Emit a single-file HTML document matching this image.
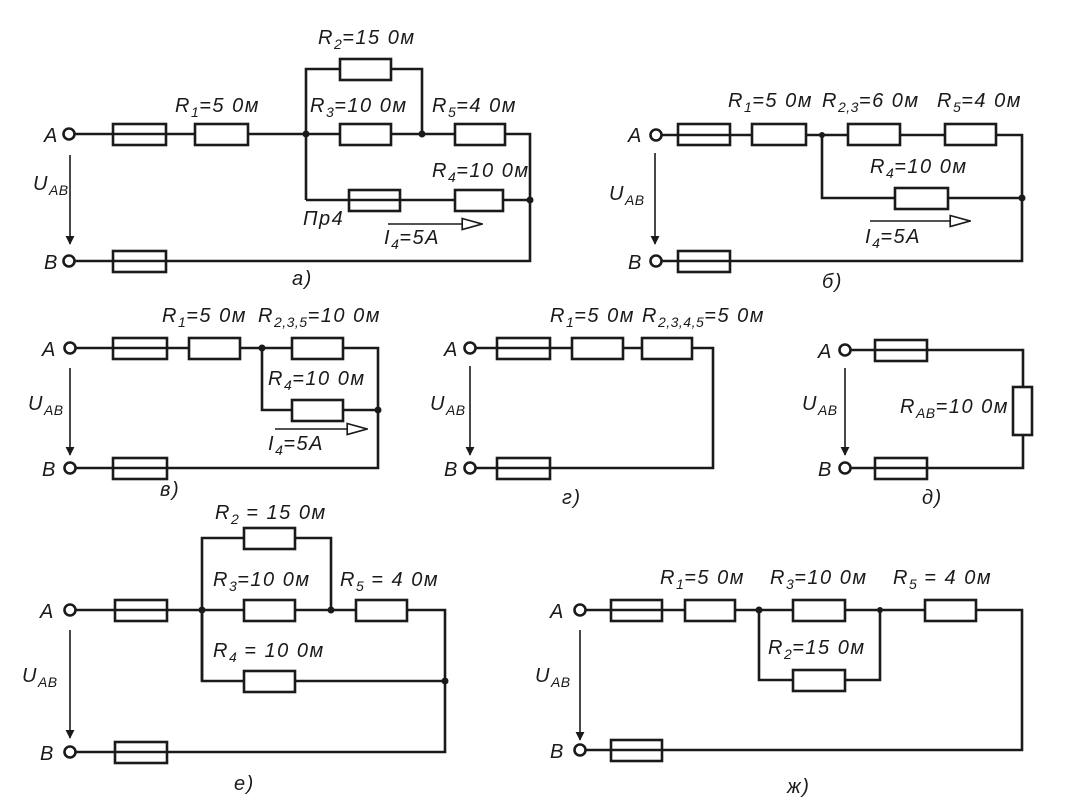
<!DOCTYPE html>
<html><head><meta charset="utf-8"><style>
html,body{margin:0;padding:0;background:#fff}
svg{display:block}
text{font-family:"Liberation Sans",sans-serif;font-style:italic;font-size:20px;fill:#1a1a1a;letter-spacing:1.5px}
.s{font-size:14px;letter-spacing:0.5px}
</style></head><body>
<svg width="1070" height="806" viewBox="0 0 1070 806" xmlns="http://www.w3.org/2000/svg">
<defs>
<marker id="ah" viewBox="0 0 10 10" refX="9" refY="5" markerWidth="9" markerHeight="16" orient="auto" markerUnits="userSpaceOnUse"><path d="M0,0 L10,5 L0,10 Z" fill="#1a1a1a"/></marker>
<marker id="oh" viewBox="0 0 20 12" refX="19" refY="6" markerWidth="22" markerHeight="14" orient="auto" markerUnits="userSpaceOnUse"><path d="M1,1 L19,6 L1,11 Z" fill="#fff" stroke="#1a1a1a" stroke-width="1.5"/></marker>
</defs>
<g fill="none" stroke="#1a1a1a" stroke-width="2.6">
<!-- a) -->
<polyline points="75,134 306,134"/>
<polyline points="306,200 306,69 422,69 422,134"/>
<polyline points="306,134 530,134 530,261 75,261"/>
<polyline points="306,200 530,200"/>
<rect x="113" y="124" width="53" height="21" fill="#fff"/><line x1="113" y1="134" x2="166" y2="134"/>
<rect x="195" y="124" width="53" height="21" fill="#fff"/>
<rect x="340" y="59" width="51" height="21" fill="#fff"/>
<rect x="340" y="124" width="51" height="21" fill="#fff"/>
<rect x="455" y="124" width="50" height="21" fill="#fff"/>
<rect x="349" y="190" width="51" height="21" fill="#fff"/><line x1="349" y1="200" x2="400" y2="200"/>
<rect x="455" y="190" width="48" height="21" fill="#fff"/>
<rect x="113" y="251" width="53" height="21" fill="#fff"/><line x1="113" y1="261" x2="166" y2="261"/>
<circle cx="69" cy="134" r="5.5" fill="#fff"/><circle cx="69" cy="261" r="5.5" fill="#fff"/>
<line x1="70" y1="155" x2="70" y2="244" stroke-width="1.6" marker-end="url(#ah)"/>
<line x1="388" y1="224" x2="482" y2="224" stroke-width="1.4" marker-end="url(#oh)"/>
<!-- b) -->
<polyline points="662,135 1022,135 1022,261 662,261"/>
<polyline points="822,135 822,198 1022,198"/>
<rect x="678" y="124" width="52" height="21" fill="#fff"/><line x1="678" y1="135" x2="730" y2="135"/>
<rect x="752" y="124" width="54" height="21" fill="#fff"/>
<rect x="848" y="124" width="52" height="21" fill="#fff"/>
<rect x="945" y="124" width="51" height="21" fill="#fff"/>
<rect x="895" y="188" width="53" height="21" fill="#fff"/>
<rect x="678" y="251" width="52" height="21" fill="#fff"/><line x1="678" y1="261" x2="730" y2="261"/>
<circle cx="656" cy="135" r="5.5" fill="#fff"/><circle cx="656" cy="261" r="5.5" fill="#fff"/>
<line x1="655" y1="153" x2="655" y2="244" stroke-width="1.6" marker-end="url(#ah)"/>
<line x1="870" y1="221" x2="970" y2="221" stroke-width="1.4" marker-end="url(#oh)"/>
<!-- v) -->
<polyline points="76,348 378,348 378,468 76,468"/>
<polyline points="262,348 262,410 378,410"/>
<rect x="113" y="338" width="54" height="21" fill="#fff"/><line x1="113" y1="348" x2="167" y2="348"/>
<rect x="189" y="338" width="51" height="21" fill="#fff"/>
<rect x="292" y="338" width="51" height="21" fill="#fff"/>
<rect x="292" y="400" width="51" height="21" fill="#fff"/>
<rect x="113" y="458" width="54" height="21" fill="#fff"/><line x1="113" y1="468" x2="167" y2="468"/>
<circle cx="70" cy="348" r="5.5" fill="#fff"/><circle cx="70" cy="468" r="5.5" fill="#fff"/>
<line x1="70" y1="368" x2="70" y2="455" stroke-width="1.6" marker-end="url(#ah)"/>
<line x1="275" y1="429" x2="367" y2="429" stroke-width="1.4" marker-end="url(#oh)"/>
<!-- g) -->
<polyline points="476,348 713,348 713,468 476,468"/>
<rect x="497" y="338" width="53" height="21" fill="#fff"/><line x1="497" y1="348" x2="550" y2="348"/>
<rect x="572" y="338" width="51" height="21" fill="#fff"/>
<rect x="642" y="338" width="50" height="21" fill="#fff"/>
<rect x="497" y="458" width="53" height="21" fill="#fff"/><line x1="497" y1="468" x2="550" y2="468"/>
<circle cx="470" cy="348" r="5.5" fill="#fff"/><circle cx="470" cy="468" r="5.5" fill="#fff"/>
<line x1="470" y1="366" x2="470" y2="455" stroke-width="1.6" marker-end="url(#ah)"/>
<!-- d) -->
<polyline points="851,350 1023,350 1023,468 851,468"/>
<rect x="875" y="340" width="52" height="21" fill="#fff"/><line x1="875" y1="350" x2="927" y2="350"/>
<rect x="1013" y="387" width="19" height="48" fill="#fff"/>
<rect x="875" y="458" width="52" height="21" fill="#fff"/><line x1="875" y1="468" x2="927" y2="468"/>
<circle cx="845" cy="350" r="5.5" fill="#fff"/><circle cx="845" cy="468" r="5.5" fill="#fff"/>
<line x1="845" y1="368" x2="845" y2="455" stroke-width="1.6" marker-end="url(#ah)"/>
<!-- e) -->
<polyline points="76,610 445,610 445,752 76,752"/>
<polyline points="202,681 202,538 331,538 331,610"/>
<polyline points="202,610 202,681 445,681"/>
<rect x="115" y="600" width="52" height="21" fill="#fff"/><line x1="115" y1="610" x2="167" y2="610"/>
<rect x="244" y="528" width="51" height="21" fill="#fff"/>
<rect x="244" y="600" width="51" height="21" fill="#fff"/>
<rect x="356" y="600" width="51" height="21" fill="#fff"/>
<rect x="244" y="671" width="51" height="21" fill="#fff"/>
<rect x="115" y="742" width="52" height="21" fill="#fff"/><line x1="115" y1="752" x2="167" y2="752"/>
<circle cx="70" cy="610" r="5.5" fill="#fff"/><circle cx="70" cy="752" r="5.5" fill="#fff"/>
<line x1="70" y1="630" x2="70" y2="738" stroke-width="1.6" marker-end="url(#ah)"/>
<!-- zh) -->
<polyline points="586,610 1022,610 1022,750 586,750"/>
<polyline points="759,610 759,680 880,680 880,610"/>
<rect x="611" y="600" width="51" height="21" fill="#fff"/><line x1="611" y1="610" x2="662" y2="610"/>
<rect x="685" y="600" width="50" height="21" fill="#fff"/>
<rect x="793" y="600" width="52" height="21" fill="#fff"/>
<rect x="925" y="600" width="51" height="21" fill="#fff"/>
<rect x="793" y="670" width="52" height="21" fill="#fff"/>
<rect x="611" y="740" width="51" height="21" fill="#fff"/><line x1="611" y1="750" x2="662" y2="750"/>
<circle cx="580" cy="610" r="5.5" fill="#fff"/><circle cx="580" cy="750" r="5.5" fill="#fff"/>
<line x1="580" y1="630" x2="580" y2="740" stroke-width="1.6" marker-end="url(#ah)"/>
</g>
<g fill="#1a1a1a">
<circle cx="306" cy="134" r="3.5"/><circle cx="422" cy="134" r="3.5"/><circle cx="530" cy="200" r="3.5"/>
<circle cx="822" cy="135" r="3"/><circle cx="1022" cy="198" r="3.5"/>
<circle cx="262" cy="348" r="3.5"/><circle cx="378" cy="410" r="3.5"/>
<circle cx="202" cy="610" r="3.5"/><circle cx="331" cy="610" r="3.5"/><circle cx="445" cy="681" r="3.5"/>
<circle cx="759" cy="610" r="3.5"/><circle cx="880" cy="610" r="3"/>
</g>
<!-- labels a -->
<text x="44" y="142">A</text><text x="44" y="269">B</text>
<text x="33" y="190">U<tspan class="s" dy="5">AB</tspan></text>
<text x="175" y="112">R<tspan class="s" dy="5">1</tspan><tspan dy="-5">=5 0м</tspan></text>
<text x="318" y="44">R<tspan class="s" dy="5">2</tspan><tspan dy="-5">=15 0м</tspan></text>
<text x="310" y="112">R<tspan class="s" dy="5">3</tspan><tspan dy="-5">=10 0м</tspan></text>
<text x="432" y="112">R<tspan class="s" dy="5">5</tspan><tspan dy="-5">=4 0м</tspan></text>
<text x="432" y="177">R<tspan class="s" dy="5">4</tspan><tspan dy="-5">=10 0м</tspan></text>
<text x="303" y="225">Пр4</text>
<text x="384" y="244">I<tspan class="s" dy="5">4</tspan><tspan dy="-5">=5A</tspan></text>
<text x="292" y="285">a)</text>
<!-- b -->
<text x="628" y="142">A</text><text x="628" y="269">B</text>
<text x="609" y="200">U<tspan class="s" dy="5">AB</tspan></text>
<text x="728" y="107">R<tspan class="s" dy="5">1</tspan><tspan dy="-5">=5 0м</tspan></text>
<text x="822" y="107">R<tspan class="s" dy="5">2,3</tspan><tspan dy="-5">=6 0м</tspan></text>
<text x="937" y="107">R<tspan class="s" dy="5">5</tspan><tspan dy="-5">=4 0м</tspan></text>
<text x="870" y="173">R<tspan class="s" dy="5">4</tspan><tspan dy="-5">=10 0м</tspan></text>
<text x="865" y="243">I<tspan class="s" dy="5">4</tspan><tspan dy="-5">=5A</tspan></text>
<text x="822" y="288">б)</text>
<!-- v -->
<text x="42" y="356">A</text><text x="42" y="476">B</text>
<text x="28" y="410">U<tspan class="s" dy="5">AB</tspan></text>
<text x="162" y="322">R<tspan class="s" dy="5">1</tspan><tspan dy="-5">=5 0м</tspan></text>
<text x="258" y="322">R<tspan class="s" dy="5">2,3,5</tspan><tspan dy="-5">=10 0м</tspan></text>
<text x="268" y="385">R<tspan class="s" dy="5">4</tspan><tspan dy="-5">=10 0м</tspan></text>
<text x="268" y="450">I<tspan class="s" dy="5">4</tspan><tspan dy="-5">=5A</tspan></text>
<text x="160" y="496">в)</text>
<!-- g -->
<text x="444" y="356">A</text><text x="444" y="476">B</text>
<text x="430" y="410">U<tspan class="s" dy="5">AB</tspan></text>
<text x="550" y="322">R<tspan class="s" dy="5">1</tspan><tspan dy="-5">=5 0м</tspan></text>
<text x="642" y="322">R<tspan class="s" dy="5">2,3,4,5</tspan><tspan dy="-5">=5 0м</tspan></text>
<text x="562" y="504">г)</text>
<!-- d -->
<text x="818" y="358">A</text><text x="818" y="476">B</text>
<text x="802" y="410">U<tspan class="s" dy="5">AB</tspan></text>
<text x="900" y="413">R<tspan class="s" dy="5">AB</tspan><tspan dy="-5">=10 0м</tspan></text>
<text x="922" y="504">д)</text>
<!-- e -->
<text x="40" y="618">A</text><text x="40" y="760">B</text>
<text x="22" y="682">U<tspan class="s" dy="5">AB</tspan></text>
<text x="215" y="519">R<tspan class="s" dy="5">2</tspan><tspan dy="-5"> = 15 0м</tspan></text>
<text x="213" y="586">R<tspan class="s" dy="5">3</tspan><tspan dy="-5">=10 0м</tspan></text>
<text x="340" y="586">R<tspan class="s" dy="5">5</tspan><tspan dy="-5"> = 4 0м</tspan></text>
<text x="213" y="657">R<tspan class="s" dy="5">4</tspan><tspan dy="-5"> = 10 0м</tspan></text>
<text x="234" y="790">е)</text>
<!-- zh -->
<text x="550" y="618">A</text><text x="550" y="758">B</text>
<text x="535" y="682">U<tspan class="s" dy="5">AB</tspan></text>
<text x="660" y="584">R<tspan class="s" dy="5">1</tspan><tspan dy="-5">=5 0м</tspan></text>
<text x="770" y="584">R<tspan class="s" dy="5">3</tspan><tspan dy="-5">=10 0м</tspan></text>
<text x="893" y="584">R<tspan class="s" dy="5">5</tspan><tspan dy="-5"> = 4 0м</tspan></text>
<text x="768" y="654">R<tspan class="s" dy="5">2</tspan><tspan dy="-5">=15 0м</tspan></text>
<text x="787" y="793">ж)</text>
</svg>
</body></html>
